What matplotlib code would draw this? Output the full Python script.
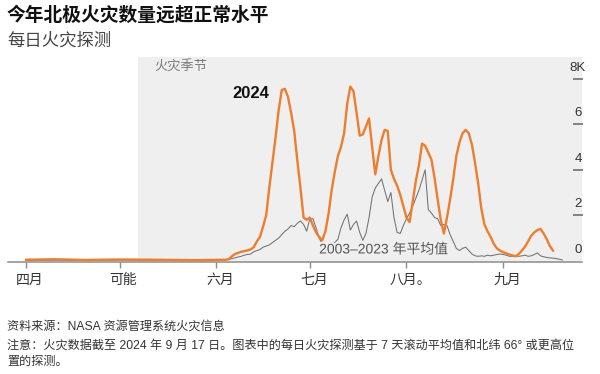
import pandas as pd
import matplotlib
matplotlib.use("Agg")
from matplotlib import pyplot as plt
from matplotlib import transforms
import matplotlib.patheffects as pe

plt.rcParams["font.family"] = ["Liberation Sans", "Noto Sans CJK SC", "DejaVu Sans"]

# data (thousands of daily fire detections, 7-day rolling mean)
early_dates = ["2024-04-01", "2024-04-10", "2024-04-20", "2024-05-01",
               "2024-05-12", "2024-05-25", "2024-06-04"]
early_2024 = [0.05, 0.07, 0.04, 0.06, 0.05, 0.03, 0.05]
early_avg = [0.02, 0.03, 0.02, 0.03, 0.03, 0.04, 0.05]

start_daily = "2024-06-05"
fires_2024 = [
    0.07, 0.2, 0.3, 0.35, 0.4, 0.43, 0.46, 0.5, 0.6, 0.85,
    1.05, 1.5, 2.0, 3.2, 4.3, 5.4, 6.6, 7.5, 7.55, 7.2,
    6.5, 5.7, 4.4, 3.2, 1.9, 1.8, 1.9, 1.55, 1.25, 1.05,
    0.9, 1.3, 2.05, 3.1, 3.9, 4.6, 5.0, 5.6, 6.9, 7.65,
    7.45, 6.5, 5.5, 5.55, 5.9, 6.25, 5.0, 3.8, 4.6, 5.3,
    5.75, 5.7, 4.0, 3.6, 3.3, 2.9, 2.4, 1.9, 1.7, 2.6,
    3.5, 4.2, 5.15, 5.05, 4.75, 4.45, 3.65, 2.7, 1.8, 1.2,
    1.9, 2.7, 3.6, 4.6, 5.2, 5.6, 5.75, 5.6, 5.1, 4.3,
    3.4, 2.3, 1.6, 1.3, 1.05, 0.75, 0.55, 0.45, 0.38, 0.33,
    0.28, 0.24, 0.2, 0.3, 0.45, 0.62, 0.85, 1.1, 1.25, 1.35,
    1.4, 1.2, 0.95, 0.65, 0.45,
]
fires_avg = [
    0.07, 0.1, 0.13, 0.17, 0.2, 0.25, 0.28, 0.3, 0.4, 0.45,
    0.5, 0.6, 0.65, 0.7, 0.8, 0.9, 1.0, 1.15, 1.3, 1.4,
    1.55, 1.5, 1.65, 1.75, 1.6, 1.3, 1.85, 1.85, 1.45, 1.0,
    0.75, 0.7, 0.65, 0.7, 0.8, 0.95, 1.45, 1.8, 2.05, 1.35,
    1.6, 1.75, 1.25, 0.9, 1.2, 1.9, 2.8, 3.2, 3.4, 3.6,
    3.1, 2.6, 3.0, 1.9, 1.25, 1.2, 1.55, 1.85, 2.1, 2.4,
    2.75, 3.1, 3.55, 4.0, 2.25, 2.1, 1.9, 1.85, 1.55, 1.6,
    1.55, 1.15, 0.85, 0.55, 0.45, 0.55, 0.6, 0.45, 0.3, 0.22,
    0.2, 0.22, 0.2, 0.25, 0.22, 0.25, 0.28, 0.3, 0.28, 0.25,
    0.2, 0.2, 0.22, 0.2, 0.22, 0.25, 0.2, 0.22, 0.28, 0.35,
    0.22, 0.18, 0.15, 0.13, 0.12, 0.1, 0.07, 0.04,
]

month_ticks = ["2024-04-01", "2024-05-01", "2024-06-01", "2024-07-01",
               "2024-08-01", "2024-09-01"]
month_labels = ["四月", "可能", "六月", "七月", "八月。", "九月"]
y_ticks = [0, 2, 4, 6, 8]
y_labels = ["0", "2", "4", "6", "8K"]
season_start = "2024-05-07"

# build series
d_early = pd.to_datetime(early_dates)
s2024 = pd.Series(fires_2024, index=pd.date_range(start_daily, periods=len(fires_2024)))
savg = pd.Series(fires_avg, index=pd.date_range(start_daily, periods=len(fires_avg)))
s2024 = pd.concat([pd.Series(early_2024, index=d_early), s2024])
savg = pd.concat([pd.Series(early_avg, index=d_early), savg])

fig = plt.figure(figsize=(6.0, 3.74), dpi=100)
ax = fig.add_axes([8 / 600, 112 / 374, 574 / 600, 205 / 374])

x_left = pd.Timestamp("2024-04-01") - pd.Timedelta(days=5.8)
x_right = pd.Timestamp("2024-04-01") + pd.Timedelta(days=178.3)
ax.set_xlim(x_left, x_right)
ax.set_ylim(-0.05, 8.95)

bg = "#efefef"
ax.axvspan(pd.Timestamp(season_start), x_right, color=bg, lw=0, zorder=0)

ax.plot(savg.index, savg.values, color="#727272", lw=0.75, zorder=2)
ax.plot(s2024.index, s2024.values, color="#ee7d2e", lw=1.7, zorder=3,
        solid_joinstyle="round")

# axes styling
for side in ["top", "left", "right"]:
    ax.spines[side].set_visible(False)
ax.spines["bottom"].set_color("#8c8c8c")
ax.spines["bottom"].set_linewidth(1.1)
ax.spines["bottom"].set_zorder(1)

ax.set_xticks(pd.to_datetime(month_ticks))
ax.set_xticklabels(month_labels, fontsize=10, color="#333333")
ax.tick_params(axis="x", length=4, width=1, color="#8c8c8c", pad=4)
shift = transforms.ScaledTranslation(4 / 100, 0, fig.dpi_scale_trans)
for lab in ax.get_xticklabels():
    lab.set_transform(lab.get_transform() + shift)

# y axis: labels sit above short dashes at the right edge
ax.set_yticks([])
yax_tr = transforms.blended_transform_factory(ax.transAxes, ax.transData)
ax.plot([0.993] * (len(y_ticks) - 1), y_ticks[1:], transform=yax_tr,
        ls="none", marker="_", ms=7, mew=1.1, color="#666666", zorder=4,
        clip_on=False)
ylab_tr = yax_tr + transforms.ScaledTranslation(0, 5 / 100, fig.dpi_scale_trans)
for v, lab in zip(y_ticks, y_labels):
    ax.text(0.993, v, lab, transform=ylab_tr, ha="center", va="bottom",
            fontsize=9.5, color="#333333")

# annotations
ax.text(pd.Timestamp("2024-05-12"), 8.56, "火灾季节", fontsize=9.5, color="#7a7a7a",
        va="center", ha="left")
ax.text(pd.Timestamp("2024-06-12"), 7.35, "2024", fontsize=12, fontweight="bold",
        color="#111111", va="center", ha="center")
ax.text(pd.Timestamp("2024-07-04"), 0.5, "2003–2023 年平均值", fontsize=10,
        color="#555555", va="center", ha="left", zorder=4,
        path_effects=[pe.withStroke(linewidth=3, foreground=bg)])

# titles and notes
fig.text(7 / 600, 1 - 15 / 374, "今年北极火灾数量远超正常水平", fontsize=13.5,
         fontweight="bold", color="#111111", va="center", ha="left")
fig.text(7 / 600, 1 - 40 / 374, "每日火灾探测", fontsize=12.5,
         color="#444444", va="center", ha="left")
fig.text(7 / 600, 1 - 327 / 374, "资料来源：NASA 资源管理系统火灾信息", fontsize=8.7,
         color="#333333", va="center", ha="left")
fig.text(7 / 600, 1 - 346 / 374,
         "注意：火灾数据截至 2024 年 9 月 17 日。图表中的每日火灾探测基于 7 天滚动平均值和北纬 66° 或更高位",
         fontsize=8.7, color="#333333", va="center", ha="left")
fig.text(7 / 600, 1 - 362 / 374, "置的探测。", fontsize=8.7,
         color="#333333", va="center", ha="left")

fig.savefig("out.png", dpi=100)
